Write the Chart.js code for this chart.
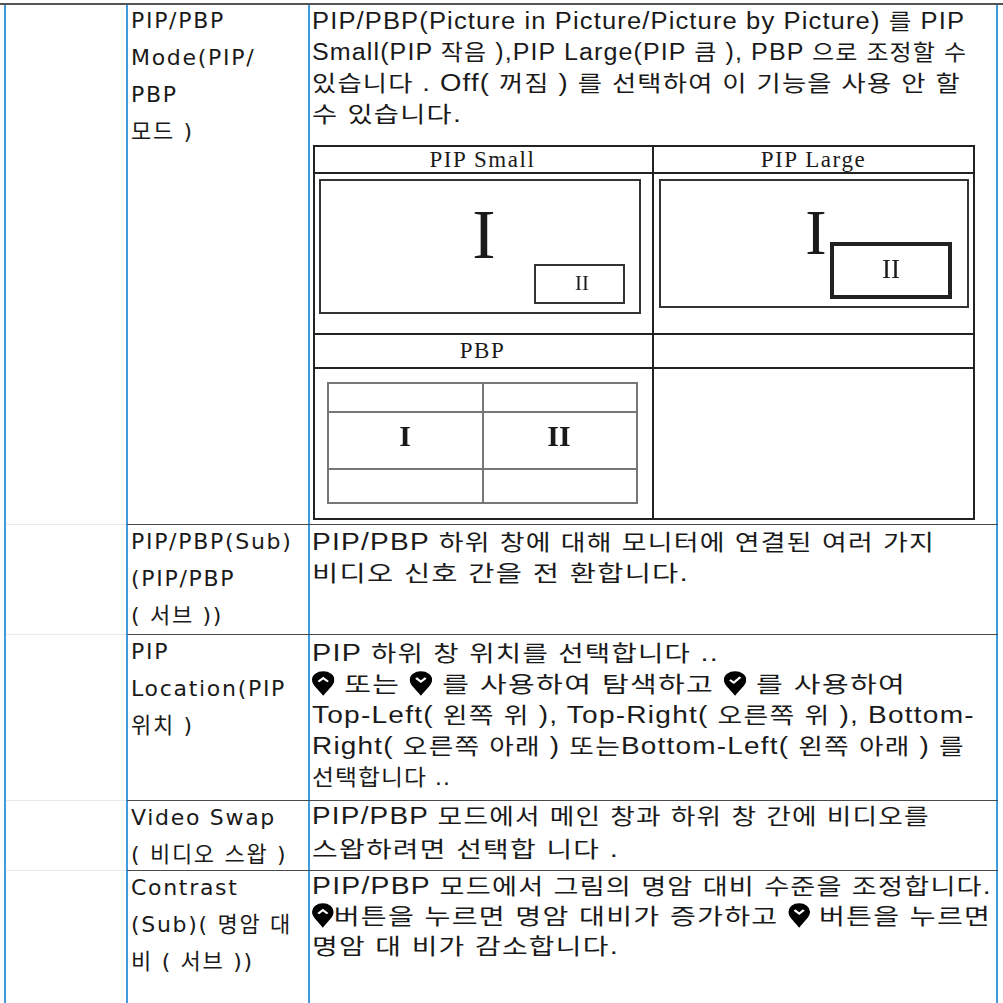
<!DOCTYPE html>
<html>

<head>
    <meta charset="utf-8">
    <title>PIP/PBP</title>
    <script src="https://cdn.jsdelivr.net/npm/chart.js"></script>
    <style>
        body { margin: 0; background: #fff; width: 1003px; height: 1003px; overflow: hidden; position: relative; color: #111; }
        .vl { position: absolute; width: 2px; background: #3f9be0; top: 3px; height: 1000px; }
        .hl { position: absolute; height: 1px; background: #4a4a4a; }
        .faint { position: absolute; height: 1px; background: #e6ebf0; }
        .lab { position: absolute; left: 131px; font-family: "DejaVu Sans", "Noto Sans CJK KR", sans-serif; font-size: 22px; letter-spacing: 1.7px; height: 37px; line-height: 37px; white-space: nowrap; color: #1a1a1a; }
        .desc { position: absolute; left: 312px; font-family: "Liberation Sans", "Noto Sans CJK KR", sans-serif; font-size: 23px; letter-spacing: 1px; height: 31px; line-height: 31px; white-space: nowrap; transform-origin: 0 50%; color: #1a1a1a; }
        .desc .k { font-family: "Noto Sans CJK KR", sans-serif; font-size: 22px; }
        .desc svg { vertical-align: -4px; }
        #inner { position: absolute; left: 313px; top: 145px; width: 662px; height: 375px; border: 2px solid #222; box-sizing: border-box; }
        .ib { position: absolute; background: #222; }
        .head { position: absolute; font-family: "Liberation Serif", serif; font-size: 23px; letter-spacing: 1.6px; line-height: 27px; height: 27px; text-align: center; white-space: nowrap; color: #1a1a1a; }
        canvas { position: absolute; }
    </style>
</head>

<body>
    <div class="vl" style="left:4px"></div>
    <div class="vl" style="left:126px"></div>
    <div class="vl" style="left:308px"></div>
    <div class="vl" style="left:996px"></div>

    <div id="inner">
        <div class="ib" style="left:0;top:25px;width:658px;height:2px"></div>
        <div class="ib" style="left:0;top:186px;width:658px;height:2px"></div>
        <div class="ib" style="left:0;top:220px;width:658px;height:2px"></div>
        <div class="ib" style="left:337px;top:0;width:2px;height:371px"></div>
    </div>
    <div class="head" style="left:313px;top:146px;width:339px">PIP Small</div>
    <div class="head" style="left:652px;top:146px;width:323px">PIP Large</div>
    <div class="head" style="left:313px;top:337px;width:339px">PBP</div>

    <canvas id="pipSmall" width="337" height="159" style="left:314px;top:173px"></canvas>
    <canvas id="pipLarge" width="321" height="159" style="left:653px;top:173px"></canvas>
    <canvas id="pbp" width="337" height="151" style="left:314px;top:368px"></canvas>

    <script>
        // table text, one entry per row
        const itemNames = [
            ["PIP/PBP", "Mode(PIP/", "PBP", "모드 )"],
            ["PIP/PBP(Sub)", "(PIP/PBP", "( 서브 ))"],
            ["PIP", "Location(PIP", "위치 )"],
            ["Video Swap", "( 비디오 스왑 )"],
            ["Contrast", "(Sub)( 명암 대", "비 ( 서브 ))"]
        ];
        const itemTexts = [
            ["PIP/PBP(Picture in Picture/Picture by Picture) 를 PIP",
             "Small(PIP 작음 ),PIP Large(PIP 큼 ), PBP 으로 조정할 수",
             "있습니다 . Off( 꺼짐 ) 를 선택하여 이 기능을 사용 안 할",
             "수 있습니다."],
            ["PIP/PBP 하위 창에 대해 모니터에 연결된 여러 가지",
             "비디오 신호 간을 전 환합니다."],
            ["PIP 하위 창 위치를 선택합니다 ..",
             " {up} 또는 {down} 를 사용하여 탐색하고 {ok} 를 사용하여",
             "Top-Left( 왼쪽 위 ), Top-Right( 오른쪽 위 ), Bottom-",
             "Right( 오른쪽 아래 ) 또는Bottom-Left( 왼쪽 아래 ) 를",
             "선택합니다 .."],
            ["PIP/PBP 모드에서 메인 창과 하위 창 간에 비디오를",
             "스왑하려면 선택합 니다 ."],
            ["PIP/PBP 모드에서 그림의 명암 대비 수준을 조정합니다.",
             "{up}버튼을 누르면 명암 대비가 증가하고 {down} 버튼을 누르면",
             "명암 대 비가 감소합니다."]
        ];

        // diagram frames [x0, y0, x1, y1] and numerals [text, x, y], in cell units
        const pipSmallFrames = [[6, 7, 326, 140], [221, 92, 310, 130]];
        const pipSmallMarks = [["I", 170, 67], ["II", 268, 111]];
        const pipLargeFrames = [[7, 7, 315, 134], [179, 71, 297, 124]];
        const pipLargeMarks = [["I", 163, 64], ["II", 238, 98]];
        const pbpFrames = [[14, 15, 323, 135], [14, 44, 323, 101], [169, 15, 169, 135]];
        const pbpMarks = [["I", 91, 70], ["II", 245, 70]];

        // layout: row top lines, text offsets, right ends of the text lines
        const rowTops = [3, 524, 634, 800, 870];
        const descOffset = [1, 1, 2, -1, -1];
        const descStep = [31, 31, 31, 33, 30];
        const descEnds = [
            [966, 968, 962, 463],
            [936, 690],
            [720, 907, 976, 966, 452],
            [931, 620],
            [993, 992, 620]
        ];

        const pins = {
            up: '<polyline points="4,8.5 7,5.5 10,8.5" fill="none" stroke="#fff" stroke-width="1.6"/>',
            down: '<polyline points="4,5.5 7,8.5 10,5.5" fill="none" stroke="#fff" stroke-width="1.6"/>',
            ok: '<polyline points="3.8,7 6.2,9.3 10.3,4.8" fill="none" stroke="#fff" stroke-width="1.6"/>'
        };
        function pin(kind) {
            return '<svg width="17" height="25" viewBox="0 0 14 20"><path d="M7 20 C3 14 0 11 0 7 A7 7 0 0 1 14 7 C14 11 11 14 7 20 Z" fill="#000"/>' + pins[kind] + '</svg>';
        }
        function markup(t) {
            return t.replace(/[\uAC00-\uD7A3]+/g, m => '<span class="k">' + m + '</span>')
                    .replace(/\{(\w+)\}/g, (m, k) => pin(k));
        }

        const body = document.body;
        rowTops.forEach((top, r) => {
            if (r > 0) {
                const f = document.createElement('div');
                f.className = 'faint';
                f.style.cssText = 'left:6px;width:120px;top:' + top + 'px';
                body.appendChild(f);
            }
            const h = document.createElement('div');
            h.className = 'hl';
            h.style.cssText = r == 0 ? 'left:0;width:1003px;top:3px;height:2px;background:#555' : 'left:127px;width:871px;top:' + top + 'px';
            body.appendChild(h);

            itemNames[r].forEach((t, i) => {
                const d = document.createElement('div');
                d.className = 'lab';
                d.style.top = (top - 1 + i * 37) + 'px';
                d.textContent = t;
                body.appendChild(d);
            });
            itemTexts[r].forEach((t, i) => {
                const d = document.createElement('div');
                d.className = 'desc';
                d.style.top = (top + descOffset[r] + i * descStep[r]) + 'px';
                d.innerHTML = markup(t);
                body.appendChild(d);
                // fit the line to its width in the original page
                const w = d.getBoundingClientRect().width;
                d.style.transform = 'scaleX(' + ((descEnds[r][i] - 313) / w).toFixed(3) + ')';
            });
        });

        const numeralSizes = { pipSmall: [70, 21], pipLarge: [64, 27], pbp: [30, 30] };

        function drawDiagram(id, frames, marks, lineStyle) {
            const canvas = document.getElementById(id);
            const datasets = frames.map((f, i) => {
                const s = lineStyle[i];
                return {
                    data: [{ x: f[0], y: f[1] }, { x: f[2], y: f[1] }, { x: f[2], y: f[3] }, { x: f[0], y: f[3] }, { x: f[0], y: f[1] }],
                    showLine: true,
                    pointRadius: 0,
                    borderColor: s.color,
                    borderWidth: s.width,
                    borderDash: s.dash || [],
                    borderCapStyle: 'square',
                    tension: 0,
                    clip: false
                };
            });
            new Chart(canvas, {
                type: 'scatter',
                data: { datasets: datasets },
                options: {
                    responsive: false,
                    animation: false,
                    devicePixelRatio: 1,
                    events: [],
                    layout: { padding: 0 },
                    plugins: { legend: { display: false }, tooltip: { enabled: false } },
                    scales: {
                        x: { type: 'linear', display: false, min: 0, max: canvas.width },
                        y: { type: 'linear', display: false, min: 0, max: canvas.height, reverse: true }
                    }
                },
                plugins: [{
                    id: 'numerals',
                    afterDatasetsDraw(chart) {
                        const ctx = chart.ctx;
                        ctx.save();
                        ctx.fillStyle = '#1a1a1a';
                        ctx.textAlign = 'center';
                        ctx.textBaseline = 'middle';
                        marks.forEach((m, i) => {
                            ctx.font = (id == 'pbp' ? 'bold ' : '') + numeralSizes[id][i] + 'px "Liberation Serif"';
                            ctx.fillText(m[0], chart.scales.x.getPixelForValue(m[1]), chart.scales.y.getPixelForValue(m[2]));
                        });
                        ctx.restore();
                    }
                }]
            });
        }

        drawDiagram('pipSmall', pipSmallFrames, pipSmallMarks, [{ color: '#333', width: 2 }, { color: '#333', width: 2 }]);
        drawDiagram('pipLarge', pipLargeFrames, pipLargeMarks, [{ color: '#333', width: 2 }, { color: '#222', width: 4 }]);
        drawDiagram('pbp', pbpFrames, pbpMarks, [
            { color: '#777', width: 2, dash: [2, 1] },
            { color: '#777', width: 2, dash: [2, 1] },
            { color: '#777', width: 2, dash: [2, 1] }
        ]);
    </script>
</body>

</html>
